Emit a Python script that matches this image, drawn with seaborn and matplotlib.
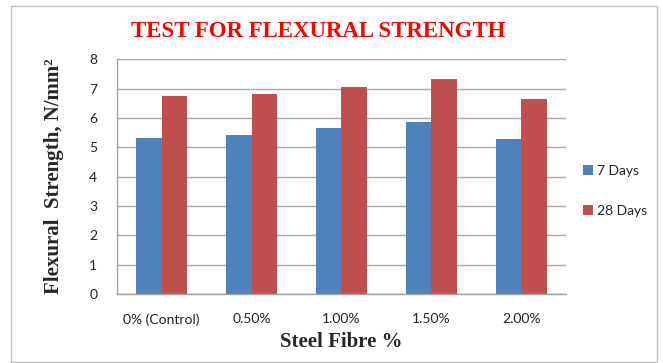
import pandas as pd
import matplotlib
matplotlib.use("Agg")
from matplotlib import pyplot as plt
import seaborn as sns

# values
fibre = ['0% (Control)', '0.50%', '1.00%', '1.50%', '2.00%']
days_7 = [5.30, 5.43, 5.64, 5.87, 5.27]
days_28 = [6.76, 6.83, 7.05, 7.31, 6.66]
series = ['7 Days', '28 Days']
yticks = [0, 1, 2, 3, 4, 5, 6, 7, 8]

df = pd.DataFrame({
    'Fibre': fibre * 2,
    'Strength': days_7 + days_28,
    'Age': [series[0]] * len(fibre) + [series[1]] * len(fibre),
})

sns.set_style("white")
plt.rcParams['font.family'] = ['Lato', 'DejaVu Sans']

fig = plt.figure(figsize=(6.63, 3.63), dpi=100)
ax = fig.add_axes([0.176, 0.19, 0.678, 0.647])

sns.barplot(x='Fibre', y='Strength', hue='Age', data=df, ax=ax,
            palette=['#4F81BD', '#C0504D'], width=0.57, gap=0,
            edgecolor='none', saturation=1)

ax.set_ylim(0, 8)
ax.set_yticks(yticks)
ax.yaxis.grid(True, color='#A6A6A6', linewidth=1)
ax.set_axisbelow(True)
for s in ['top', 'right']:
    ax.spines[s].set_visible(False)
for s in ['left', 'bottom']:
    ax.spines[s].set_color('#A0A0A0')
    ax.spines[s].set_linewidth(1)
ax.tick_params(axis='both', length=0, labelsize=10, colors='#222222')
ax.tick_params(axis='x', pad=14)
ax.tick_params(axis='y', pad=14)

ax.set_xlabel('Steel Fibre %', family='Liberation Serif', fontweight='bold',
              fontsize=15, labelpad=4)
ax.set_ylabel('Flexural  Strength, N/mm²', family='Liberation Serif',
              fontweight='bold', fontsize=15, labelpad=18)

fig.text(0.48, 0.912, 'TEST FOR FLEXURAL STRENGTH', color='#FF0000',
         family='Liberation Serif', fontweight='bold', fontsize=16.5,
         ha='center', va='center')

leg = ax.legend(loc='center left', bbox_to_anchor=(1.01, 0.44), frameon=False,
                fontsize=10, handlelength=0.7, handleheight=0.7,
                handletextpad=0.3, labelspacing=2.0)

# light border around the chart area
fig.patches.append(plt.Rectangle((0.016, 0.003), 0.975, 0.98, transform=fig.transFigure,
                                 fill=False, edgecolor='#BFBFBF', linewidth=1))

fig.savefig('out.png', dpi=100)
